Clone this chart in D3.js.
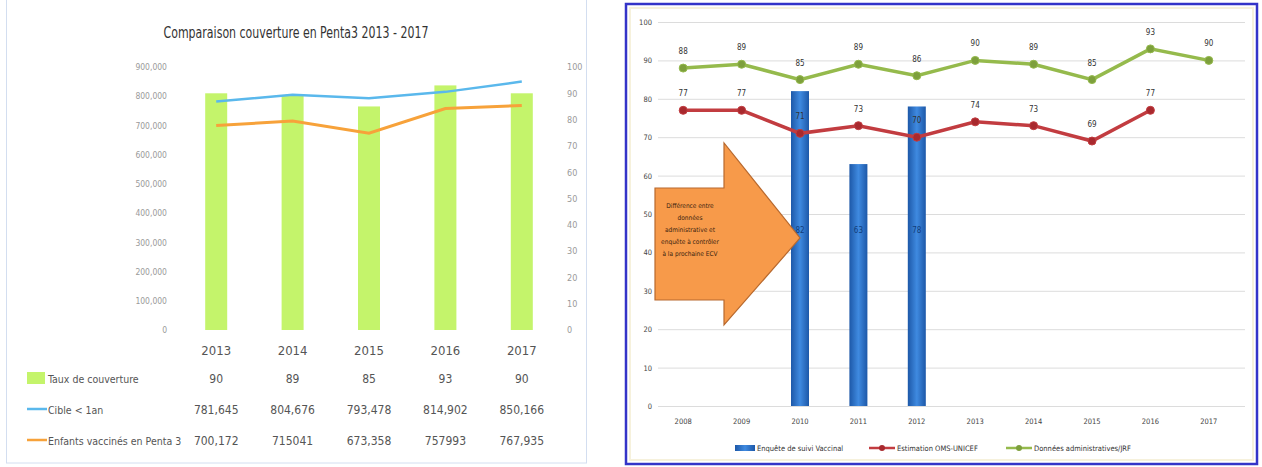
<!DOCTYPE html>
<html>
<head>
<meta charset="utf-8">
<script src="https://cdn.jsdelivr.net/npm/d3@7/dist/d3.min.js"></script>
<style>
  body { margin: 0; background: #fff; }
  svg { display: block; }
  svg text { font-family: "DejaVu Sans Condensed", "DejaVu Sans", sans-serif; font-stretch: condensed; }
</style>
</head>
<body>
<script>
// ---- left chart data ----
const leftYears = ["2013", "2014", "2015", "2016", "2017"];
const taux = [90, 89, 85, 93, 90];
const cible = [781645, 804676, 793478, 814902, 850166];
const enfants = [700172, 715041, 673358, 757993, 767935];
const cibleLabels = ["781,645", "804,676", "793,478", "814,902", "850,166"];
const enfantsLabels = ["700,172", "715041", "673,358", "757993", "767,935"];
const leftTicks = [0, 100000, 200000, 300000, 400000, 500000, 600000, 700000, 800000, 900000];
const rightTicks = [0, 10, 20, 30, 40, 50, 60, 70, 80, 90, 100];

// ---- right chart data ----
const rightYears = ["2008", "2009", "2010", "2011", "2012", "2013", "2014", "2015", "2016", "2017"];
const enquete = [null, null, 82, 63, 78, null, null, null, null, null];
const omsUnicef = [77, 77, 71, 73, 70, 74, 73, 69, 77, null];
const adminJrf = [88, 89, 85, 89, 86, 90, 89, 85, 93, 90];
const pctTicks = [0, 10, 20, 30, 40, 50, 60, 70, 80, 90, 100];
const arrowText = ["Différence entre", "données", "administrative et", "enquête à contrôler", "à la prochaine ECV"];

let svg = d3.select("body").append("svg")
    .attr("width", 1262)
    .attr("height", 467);

// ================= LEFT PANEL =================
let left = svg.append("g");

left.append("rect")
    .attr("x", 6.5).attr("y", -2)
    .attr("width", 580).attr("height", 465)
    .attr("fill", "none")
    .attr("stroke", "#d3def0");

left.append("text")
    .attr("x", 296).attr("y", 38)
    .attr("text-anchor", "middle")
    .attr("font-size", 15)
    .attr("fill", "#333")
    .attr("textLength", 265)
    .attr("lengthAdjust", "spacingAndGlyphs")
    .text("Comparaison couverture en Penta3 2013 - 2017");

let xL = d3.scaleBand().domain(leftYears).range([178, 560]);
let yL = d3.scaleLinear().domain([0, 900000]).range([330, 67]);
let yLR = d3.scaleLinear().domain([0, 100]).range([330, 67]);
let cx = d => xL(d) + xL.bandwidth() / 2;

let axL = left.append("g")
    .attr("transform", "translate(170,0)")
    .call(d3.axisLeft(yL).tickValues(leftTicks).tickFormat(d3.format(",")).tickSize(0));
axL.select(".domain").remove();
axL.selectAll("text")
    .attr("font-size", 8.5).attr("fill", "#9a9a9a");

let axR = left.append("g")
    .attr("transform", "translate(564,0)")
    .call(d3.axisRight(yLR).tickValues(rightTicks).tickSize(0));
axR.select(".domain").remove();
axR.selectAll("text")
    .attr("font-size", 9).attr("fill", "#9a9a9a");

// bars (taux de couverture, right axis)
left.selectAll("rect.bar")
    .data(taux)
    .enter().append("rect")
    .attr("class", "bar")
    .attr("x", (d, i) => cx(leftYears[i]) - 11)
    .attr("y", d => yLR(d))
    .attr("width", 22)
    .attr("height", d => yLR(0) - yLR(d))
    .attr("fill", "#c4f46b");

let lineL = d3.line()
    .x((d, i) => cx(leftYears[i]))
    .y(d => yL(d));

left.append("path").datum(cible)
    .attr("d", lineL)
    .attr("fill", "none")
    .attr("stroke", "#5ab8ec")
    .attr("stroke-width", 2.5);

left.append("path").datum(enfants)
    .attr("d", lineL)
    .attr("fill", "none")
    .attr("stroke", "#f7a23a")
    .attr("stroke-width", 3);

// category labels
left.selectAll("text.cat")
    .data(leftYears)
    .enter().append("text")
    .attr("class", "cat")
    .attr("x", d => cx(d)).attr("y", 355)
    .attr("text-anchor", "middle")
    .attr("font-size", 13).attr("fill", "#555")
    .text(d => d);

// data table
let rows = [
    {name: "Taux de couverture", vals: taux.map(String), y: 383, key: "box", color: "#c4f46b"},
    {name: "Cible < 1an", vals: cibleLabels, y: 414, key: "line", color: "#5ab8ec"},
    {name: "Enfants vaccinés en Penta 3", vals: enfantsLabels, y: 445, key: "line", color: "#f7a23a"}
];

rows.forEach(r => {
    if (r.key == "box") {
        left.append("rect")
            .attr("x", 27).attr("y", r.y - 11)
            .attr("width", 18).attr("height", 12)
            .attr("fill", r.color);
    } else {
        left.append("line")
            .attr("x1", 27).attr("x2", 47)
            .attr("y1", r.y - 5).attr("y2", r.y - 5)
            .attr("stroke", r.color).attr("stroke-width", 2.5);
    }
    left.append("text")
        .attr("x", 48).attr("y", r.y)
        .attr("font-size", 10.5).attr("fill", "#555")
        .text(r.name);
    left.selectAll(null)
        .data(r.vals)
        .enter().append("text")
        .attr("x", (d, i) => cx(leftYears[i])).attr("y", r.y)
        .attr("text-anchor", "middle")
        .attr("font-size", 12).attr("fill", "#555")
        .text(d => d);
});

// ================= RIGHT PANEL =================
let right = svg.append("g");

right.append("rect")
    .attr("x", 626).attr("y", 4)
    .attr("width", 631).attr("height", 460)
    .attr("fill", "#fff")
    .attr("stroke", "#3434c8")
    .attr("stroke-width", 2.5);
right.append("rect")
    .attr("x", 630).attr("y", 8)
    .attr("width", 623).attr("height", 452)
    .attr("fill", "none")
    .attr("stroke", "#f6f1dc")
    .attr("stroke-width", 2);

let xR = d3.scaleBand().domain(rightYears).range([654, 1238]);
let yR = d3.scaleLinear().domain([0, 100]).range([406, 22]);
let rx = d => xR(d) + xR.bandwidth() / 2;

let grid = right.append("g")
    .attr("transform", "translate(658,0)")
    .call(d3.axisLeft(yR).tickValues(pctTicks).tickSize(-587).tickPadding(6));
grid.select(".domain").remove();
grid.selectAll("line").attr("stroke", "#dcdcdc");
grid.selectAll("text")
    .attr("font-size", 7.5).attr("fill", "#444");

let xAx = right.append("g")
    .attr("transform", "translate(0,406)")
    .call(d3.axisBottom(xR).tickSize(0).tickPadding(13));
xAx.select(".domain").remove();
xAx.selectAll("text")
    .attr("font-size", 7.5).attr("fill", "#444");

// bar gradient
let defs = svg.append("defs");
let grad = defs.append("linearGradient").attr("id", "barGrad")
    .attr("x1", "0").attr("x2", "1").attr("y1", "0").attr("y2", "0");
grad.append("stop").attr("offset", "0%").attr("stop-color", "#1d58a8");
grad.append("stop").attr("offset", "50%").attr("stop-color", "#3f8ae0");
grad.append("stop").attr("offset", "100%").attr("stop-color", "#1d58a8");

let barData = enquete.map((v, i) => ({year: rightYears[i], v: v})).filter(d => d.v != null);

right.selectAll("rect.ebar")
    .data(barData)
    .enter().append("rect")
    .attr("class", "ebar")
    .attr("x", d => rx(d.year) - 9)
    .attr("y", d => yR(d.v))
    .attr("width", 18)
    .attr("height", d => yR(0) - yR(d.v))
    .attr("fill", "url(#barGrad)");

right.selectAll("text.ebar")
    .data(barData)
    .enter().append("text")
    .attr("class", "ebar")
    .attr("x", d => rx(d.year)).attr("y", yR(45))
    .attr("text-anchor", "middle")
    .attr("font-size", 8).attr("fill", "#123d7a")
    .text(d => d.v);

// arrow annotation
let arrow = right.append("g");
arrow.append("polygon")
    .attr("points", "655,188 724,188 724,143 800,238 724,325 724,300 655,300")
    .attr("fill", "#f79a4a")
    .attr("stroke", "#b8692e")
    .attr("stroke-width", 1.2);
arrow.selectAll("text")
    .data(arrowText)
    .enter().append("text")
    .attr("x", 690).attr("y", (d, i) => 208 + i * 12)
    .attr("text-anchor", "middle")
    .attr("font-size", 6.5).attr("fill", "#3a2410")
    .text(d => d);

// lines with markers
let series = [
    {vals: adminJrf, color: "#95ba4c", dark: "#7d9f3c"},
    {vals: omsUnicef, color: "#c23c40", dark: "#a8292e"}
];

let lineR = d3.line()
    .defined(d => d.v != null)
    .x(d => rx(d.year))
    .y(d => yR(d.v));

series.forEach(s => {
    let pts = s.vals.map((v, i) => ({year: rightYears[i], v: v}));
    right.append("path").datum(pts)
        .attr("d", lineR)
        .attr("fill", "none")
        .attr("stroke", s.color)
        .attr("stroke-width", 3.5);
    let valid = pts.filter(d => d.v != null);
    right.selectAll(null)
        .data(valid)
        .enter().append("circle")
        .attr("cx", d => rx(d.year))
        .attr("cy", d => yR(d.v))
        .attr("r", 4)
        .attr("fill", s.dark)
        .attr("stroke", s.color);
    right.selectAll(null)
        .data(valid)
        .enter().append("text")
        .attr("x", d => rx(d.year))
        .attr("y", d => yR(d.v) - 14)
        .attr("text-anchor", "middle")
        .attr("font-size", 8).attr("fill", "#333")
        .text(d => d.v);
});

// legend
let leg = right.append("g")
    .attr("font-size", 7.5).attr("fill", "#333");
leg.append("rect")
    .attr("x", 735).attr("y", 445).attr("width", 20).attr("height", 6)
    .attr("fill", "url(#barGrad)");
leg.append("text").attr("x", 757).attr("y", 451).text("Enquête de suivi Vaccinal");
leg.append("line")
    .attr("x1", 869).attr("x2", 895).attr("y1", 448).attr("y2", 448)
    .attr("stroke", "#c23c40").attr("stroke-width", 2.5);
leg.append("circle").attr("cx", 882).attr("cy", 448).attr("r", 3)
    .attr("fill", "#a8292e");
leg.append("text").attr("x", 897).attr("y", 451).text("Estimation OMS-UNICEF");
leg.append("line")
    .attr("x1", 1006).attr("x2", 1032).attr("y1", 448).attr("y2", 448)
    .attr("stroke", "#95ba4c").attr("stroke-width", 2.5);
leg.append("circle").attr("cx", 1019).attr("cy", 448).attr("r", 3)
    .attr("fill", "#7d9f3c");
leg.append("text").attr("x", 1034).attr("y", 451).text("Données administratives/JRF");
</script>
</body>
</html>
